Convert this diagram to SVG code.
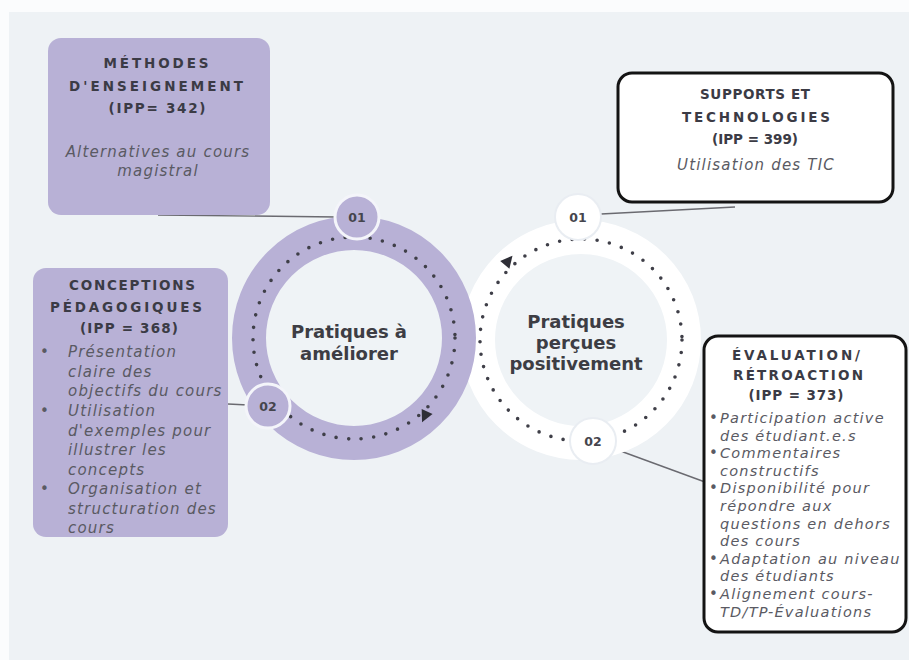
<svg xmlns="http://www.w3.org/2000/svg" width="909" height="660" viewBox="0 0 909 660">
  <defs>
    <style>
      .hd { font-family: "DejaVu Sans", "Liberation Sans", sans-serif; font-weight: bold; font-size: 13.5px; fill: #3b3b45; text-anchor: middle; }
      .it { font-family: "DejaVu Sans", "Liberation Sans", sans-serif; font-style: italic; font-size: 15px; fill: #5a5a63; letter-spacing: 1.2px; }
      .itc { text-anchor: middle; }
      .it4 { font-size: 14.5px; letter-spacing: 1.25px; }
      .ctr { font-family: "DejaVu Sans", "Liberation Sans", sans-serif; font-weight: bold; font-size: 18px; fill: #3d3d44; text-anchor: middle; }
      .num { font-family: "DejaVu Sans", "Liberation Sans", sans-serif; font-weight: bold; font-size: 12.5px; fill: #45454d; text-anchor: middle; }
      .bul { font-family: "DejaVu Sans", sans-serif; font-size: 15px; fill: #5a5a63; }
      .purple { fill: #b8b1d6; }
      .outlined { fill: #ffffff; stroke: #141414; stroke-width: 3; }
      .link { stroke: #6a6a70; stroke-width: 1.4; fill: none; }
      .dots { fill: none; stroke: #3f3f48; stroke-width: 3.6; stroke-linecap: round; }
      .arrow { fill: #2e2e36; }
    </style>
  </defs>

  <!-- page -->
  <rect x="0" y="0" width="909" height="660" fill="#fbfcfd"/>
  <rect x="9" y="12" width="900" height="648" fill="#eef2f5"/>

  <!-- connectors -->
  <g id="connectors">
    <line class="link" x1="158" y1="215" x2="337" y2="217"/>
    <line class="link" x1="228" y1="404" x2="248" y2="405"/>
    <line class="link" x1="601" y1="214" x2="735" y2="207"/>
    <line class="link" x1="615" y1="449" x2="705" y2="482"/>
  </g>

  <!-- cycle: positively perceived practices -->
  <g id="cycle-positive">
    <circle cx="581" cy="340" r="103" fill="#eff3f6" stroke="#ffffff" stroke-width="34"/>
    <circle class="dots" cx="581" cy="340" r="101" stroke-dasharray="0 12.6"/>
    <path class="arrow" d="M7,0 L-5,-6 L-5,6 Z" transform="translate(508,261) rotate(-50)"/>
    <text class="ctr" x="576" y="328">Pratiques</text>
    <text class="ctr" x="576" y="349">perçues</text>
    <text class="ctr" x="576" y="370">positivement</text>
  </g>

  <!-- cycle: practices to improve -->
  <g id="cycle-improve">
    <circle cx="354" cy="338" r="105" fill="#eff3f6" stroke="#b8b1d6" stroke-width="34"/>
    <circle class="dots" cx="354" cy="338" r="101" stroke-dasharray="0 12.6"/>
    <path class="arrow" d="M7,0 L-5,-6 L-5,6 Z" transform="translate(425,416) rotate(115)"/>
    <text class="ctr" x="349" y="338">Pratiques à</text>
    <text class="ctr" x="349" y="360">améliorer</text>
  </g>

  <!-- step badges -->
  <g id="badge-left-01">
    <circle class="purple" cx="357" cy="217" r="22" stroke="#f4f5fa" stroke-width="3"/>
    <text class="num" x="357" y="221.5">01</text>
  </g>
  <g id="badge-left-02">
    <circle class="purple" cx="268" cy="406" r="22" stroke="#f4f5fa" stroke-width="3"/>
    <text class="num" x="268" y="410.5">02</text>
  </g>
  <g id="badge-right-01">
    <circle cx="578" cy="217" r="23" fill="#ffffff" stroke="#e9edf2" stroke-width="2"/>
    <text class="num" x="578" y="221.5">01</text>
  </g>
  <g id="badge-right-02">
    <circle cx="593" cy="441" r="23" fill="#ffffff" stroke="#e9edf2" stroke-width="2"/>
    <text class="num" x="593" y="445.5">02</text>
  </g>

  <!-- teaching methods -->
  <g id="box-methodes">
    <rect class="purple" x="48" y="38" width="222" height="177" rx="13"/>
    <text class="hd" x="156" y="68" textLength="105" lengthAdjust="spacing">MÉTHODES</text>
    <text class="hd" x="156" y="91" textLength="174" lengthAdjust="spacing">D'ENSEIGNEMENT</text>
    <text class="hd" x="157" y="113" textLength="97" lengthAdjust="spacing">(IPP= 342)</text>
    <text class="it itc" x="158" y="157">Alternatives au cours</text>
    <text class="it itc" x="158" y="176">magistral</text>
  </g>

  <!-- pedagogical design -->
  <g id="box-conceptions">
    <rect class="purple" x="33" y="268" width="195" height="269" rx="13"/>
    <text class="hd" x="132" y="290" textLength="126" lengthAdjust="spacing">CONCEPTIONS</text>
    <text class="hd" x="126" y="312" textLength="152" lengthAdjust="spacing">PÉDAGOGIQUES</text>
    <text class="hd" x="129" y="333" textLength="98" lengthAdjust="spacing">(IPP = 368)</text>
    <text class="bul" x="40" y="357">•</text>
    <text class="it" x="68" y="357">Présentation</text>
    <text class="it" x="68" y="377">claire des</text>
    <text class="it" x="68" y="396">objectifs du cours</text>
    <text class="bul" x="40" y="416">•</text>
    <text class="it" x="68" y="416">Utilisation</text>
    <text class="it" x="68" y="436">d'exemples pour</text>
    <text class="it" x="68" y="455">illustrer les</text>
    <text class="it" x="68" y="475">concepts</text>
    <text class="bul" x="40" y="494">•</text>
    <text class="it" x="68" y="494">Organisation et</text>
    <text class="it" x="68" y="514">structuration des</text>
    <text class="it" x="68" y="533">cours</text>
  </g>

  <!-- supports and technologies -->
  <g id="box-supports">
    <rect class="outlined" x="618" y="73" width="275" height="129" rx="14"/>
    <text class="hd" x="755" y="99" textLength="110" lengthAdjust="spacing">SUPPORTS ET</text>
    <text class="hd" x="756" y="122" textLength="148" lengthAdjust="spacing">TECHNOLOGIES</text>
    <text class="hd" x="755" y="144">(IPP = 399)</text>
    <text class="it itc" x="756" y="170">Utilisation des TIC</text>
  </g>

  <!-- evaluation / feedback -->
  <g id="box-evaluation">
    <rect class="outlined" x="704" y="336" width="202" height="296" rx="14"/>
    <text class="hd" x="796" y="360" textLength="128" lengthAdjust="spacing">ÉVALUATION/</text>
    <text class="hd" x="798" y="380" textLength="130" lengthAdjust="spacing">RÉTROACTION</text>
    <text class="hd" x="796" y="400" textLength="95" lengthAdjust="spacing">(IPP = 373)</text>
    <text class="bul" x="709" y="423">•</text>
    <text class="it it4" x="720" y="423">Participation active</text>
    <text class="it it4" x="720" y="440.6">des étudiant.e.s</text>
    <text class="bul" x="709" y="458.2">•</text>
    <text class="it it4" x="720" y="458.2">Commentaires</text>
    <text class="it it4" x="720" y="475.8">constructifs</text>
    <text class="bul" x="709" y="493.4">•</text>
    <text class="it it4" x="720" y="493.4">Disponibilité pour</text>
    <text class="it it4" x="720" y="511">répondre aux</text>
    <text class="it it4" x="720" y="528.6">questions en dehors</text>
    <text class="it it4" x="720" y="546.2">des cours</text>
    <text class="bul" x="709" y="563.8">•</text>
    <text class="it it4" x="720" y="563.8">Adaptation au niveau</text>
    <text class="it it4" x="720" y="581.4">des étudiants</text>
    <text class="bul" x="709" y="599">•</text>
    <text class="it it4" x="720" y="599">Alignement cours-</text>
    <text class="it it4" x="720" y="616.6">TD/TP-Évaluations</text>
  </g>
</svg>
